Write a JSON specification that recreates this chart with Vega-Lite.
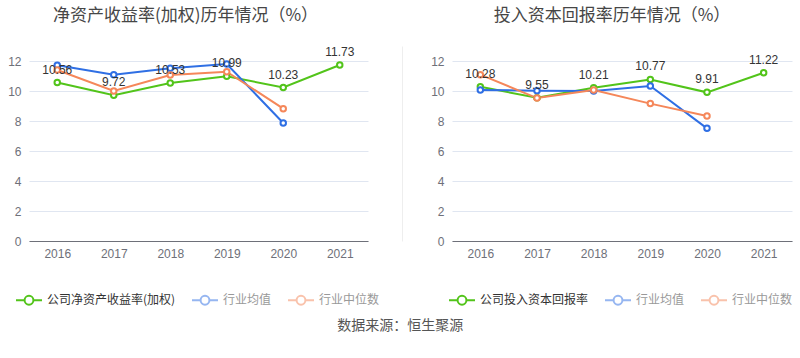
{
  "$schema": "https://vega.github.io/schema/vega-lite/v6.json",
  "padding": {"left": 7, "top": 7, "right": 5, "bottom": 5},
  "background": "#ffffff",
  "datasets": {
    "roe": [
      {"year": "2016", "s": "公司净资产收益率(加权)", "v": 10.56},
      {"year": "2017", "s": "公司净资产收益率(加权)", "v": 9.72},
      {"year": "2018", "s": "公司净资产收益率(加权)", "v": 10.53},
      {"year": "2019", "s": "公司净资产收益率(加权)", "v": 10.99},
      {"year": "2020", "s": "公司净资产收益率(加权)", "v": 10.23},
      {"year": "2021", "s": "公司净资产收益率(加权)", "v": 11.73},
      {"year": "2016", "s": "行业均值", "v": 11.71},
      {"year": "2017", "s": "行业均值", "v": 11.09},
      {"year": "2018", "s": "行业均值", "v": 11.51},
      {"year": "2019", "s": "行业均值", "v": 11.8},
      {"year": "2020", "s": "行业均值", "v": 7.87},
      {"year": "2016", "s": "行业中位数", "v": 11.4},
      {"year": "2017", "s": "行业中位数", "v": 10.0},
      {"year": "2018", "s": "行业中位数", "v": 11.07},
      {"year": "2019", "s": "行业中位数", "v": 11.29},
      {"year": "2020", "s": "行业中位数", "v": 8.82}
    ],
    "roic": [
      {"year": "2016", "s": "公司投入资本回报率", "v": 10.28},
      {"year": "2017", "s": "公司投入资本回报率", "v": 9.55},
      {"year": "2018", "s": "公司投入资本回报率", "v": 10.21},
      {"year": "2019", "s": "公司投入资本回报率", "v": 10.77},
      {"year": "2020", "s": "公司投入资本回报率", "v": 9.91},
      {"year": "2021", "s": "公司投入资本回报率", "v": 11.22},
      {"year": "2016", "s": "行业均值", "v": 10.07},
      {"year": "2017", "s": "行业均值", "v": 10.02},
      {"year": "2018", "s": "行业均值", "v": 10.0},
      {"year": "2019", "s": "行业均值", "v": 10.33},
      {"year": "2020", "s": "行业均值", "v": 7.51},
      {"year": "2016", "s": "行业中位数", "v": 11.09},
      {"year": "2017", "s": "行业中位数", "v": 9.53},
      {"year": "2018", "s": "行业中位数", "v": 10.07},
      {"year": "2019", "s": "行业中位数", "v": 9.16},
      {"year": "2020", "s": "行业中位数", "v": 8.33}
    ]
  },
  "title": {
    "text": "数据来源：恒生聚源",
    "orient": "bottom",
    "anchor": "middle",
    "fontSize": 14,
    "fontWeight": "normal",
    "color": "#555555",
    "font": "Noto Sans CJK SC",
    "offset": 10
  },
  "spacing": 22,
  "resolve": {"scale": {"color": "independent"}},
  "hconcat": [
    {
      "width": 339,
      "height": 195,
      "title": {"text": "净资产收益率(加权)历年情况（%）", "dx": -13},
      "data": {"name": "roe"},
      "encoding": {
        "x": {"field": "year", "type": "ordinal", "scale": {"type": "point", "padding": 0.5}, "axis": {"title": null}},
        "y": {"field": "v", "type": "quantitative", "scale": {"domain": [0, 13], "nice": false}, "axis": {"title": null, "values": [0, 2, 4, 6, 8, 10, 12]}},
        "color": {
          "field": "s", "type": "nominal",
          "scale": {"domain": ["公司净资产收益率(加权)", "行业均值", "行业中位数"], "range": ["#52c41a", "#2f6fe4", "#f5875a"]},
          "legend": {
            "legendX": -14, "legendY": 240,
            "encode": {
              "symbols": {"update": {"opacity": {"signal": "datum.index === 0 ? 1 : 0.5"}}},
              "labels": {"update": {"fill": {"signal": "datum.index === 0 ? '#333333' : '#999999'"}}}
            }
          }
        }
      },
      "layer": [
        {"mark": {"type": "line", "strokeWidth": 2}},
        {"mark": {"type": "point", "filled": false, "fill": "#ffffff", "fillOpacity": 1, "size": 30, "strokeWidth": 2, "opacity": 1}},
        {
          "transform": [{"filter": "datum.s === '公司净资产收益率(加权)'"}],
          "mark": {"type": "text", "dy": -13, "fontSize": 12, "color": "#333333", "font": "Liberation Sans"},
          "encoding": {"text": {"field": "v", "type": "quantitative", "format": ".2f"}, "color": {"value": "#333333"}}
        }
      ]
    },
    {
      "width": 340,
      "height": 195,
      "title": {"text": "投入资本回报率历年情况（%）", "dx": -10},
      "data": {"name": "roic"},
      "resolve": {"axis": {"y": "independent"}},
      "layer": [
        {
          "encoding": {
            "x": {"field": "year", "type": "ordinal", "scale": {"type": "point", "padding": 0.5}, "axis": {"title": null}},
            "y": {"field": "v", "type": "quantitative", "scale": {"domain": [0, 13], "nice": false}, "axis": {"title": null, "values": [0, 2, 4, 6, 8, 10, 12]}},
            "color": {
              "field": "s", "type": "nominal",
              "scale": {"domain": ["公司投入资本回报率", "行业均值", "行业中位数"], "range": ["#52c41a", "#2f6fe4", "#f5875a"]},
              "legend": {
                "legendX": -4, "legendY": 240,
                "encode": {
                  "symbols": {"update": {"opacity": {"signal": "datum.index === 0 ? 1 : 0.5"}}},
                  "labels": {"update": {"fill": {"signal": "datum.index === 0 ? '#333333' : '#999999'"}}}
                }
              }
            }
          },
          "layer": [
            {"mark": {"type": "line", "strokeWidth": 2}},
            {"mark": {"type": "point", "filled": false, "fill": "#ffffff", "fillOpacity": 1, "size": 30, "strokeWidth": 2, "opacity": 1}},
            {
              "transform": [{"filter": "datum.s === '公司投入资本回报率'"}],
              "mark": {"type": "text", "dy": -13, "fontSize": 12, "color": "#333333", "font": "Liberation Sans"},
              "encoding": {"text": {"field": "v", "type": "quantitative", "format": ".2f"}, "color": {"value": "#333333"}}
            }
          ]
        },
        {
          "mark": {"type": "tick", "opacity": 0},
          "encoding": {
            "y": {"field": "v", "type": "quantitative", "axis": {"orient": "left", "offset": 50, "labels": false, "ticks": false, "grid": false, "domain": true, "domainColor": "#eeeeee", "domainWidth": 1, "title": null}}
          }
        }
      ]
    }
  ],
  "config": {
    "view": {"stroke": null},
    "font": "Liberation Sans, Noto Sans CJK SC",
    "title": {"fontSize": 17, "fontWeight": "normal", "color": "#464646", "font": "Noto Sans CJK SC", "anchor": "middle", "offset": 21},
    "axisX": {"domainColor": "#6e7079", "ticks": false, "labelColor": "#6e7079", "labelFontSize": 12, "labelPadding": 7, "grid": false, "labelAngle": 0, "labelFont": "Liberation Sans"},
    "axisY": {"domain": false, "ticks": false, "labelColor": "#6e7079", "labelFontSize": 12, "labelPadding": 8, "gridColor": "#e0e6f1", "labelFont": "Liberation Sans"},
    "legend": {
      "orient": "none",
      "direction": "horizontal",
      "title": null,
      "symbolType": "M-1,0L-0.36,0M0.36,0L1,0M0.34,0A0.34,0.34,0,1,1,-0.34,0A0.34,0.34,0,1,1,0.34,0Z",
      "symbolSize": 676,
      "symbolStrokeWidth": 2,
      "symbolFillColor": "#ffffff",
      "labelFontSize": 12,
      "labelFont": "Noto Sans CJK SC",
      "labelColor": "#333333",
      "labelOffset": 4,
      "columnPadding": 12
    }
  }
}
